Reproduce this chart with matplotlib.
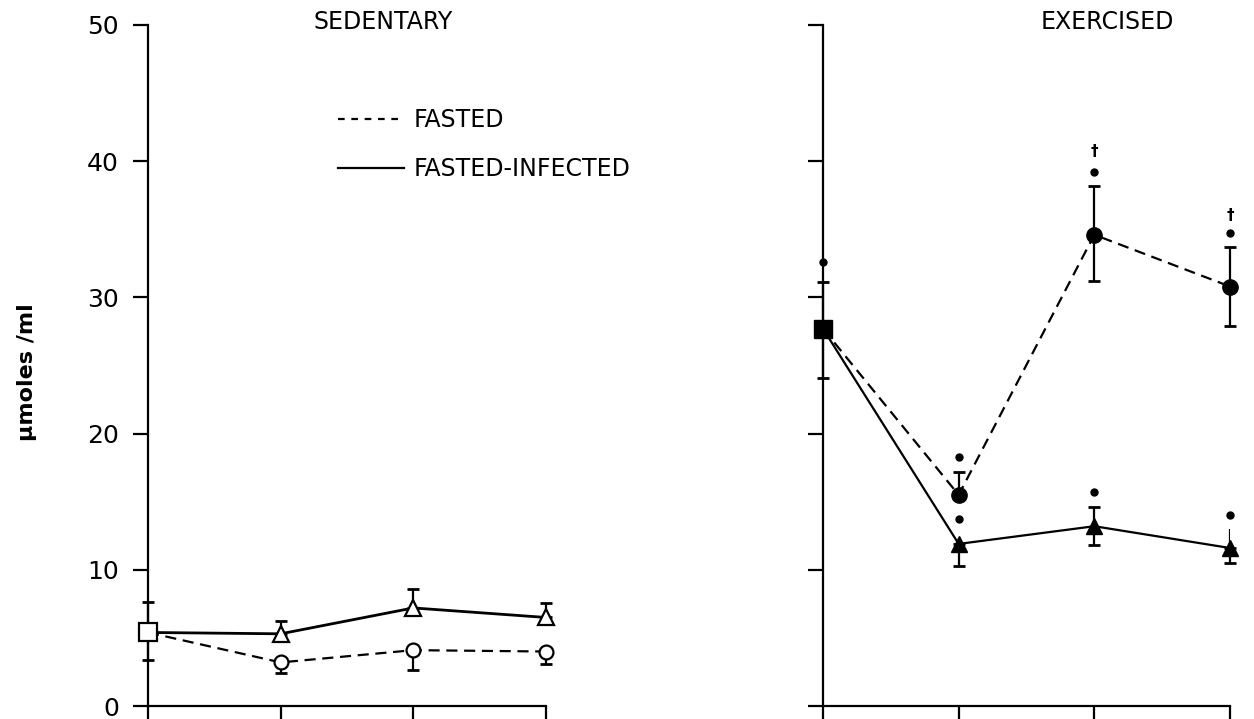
import matplotlib
matplotlib.use("Agg")
import matplotlib.pyplot as plt
import numpy as np
from matplotlib.lines import Line2D

# ---------------- data ----------------
x_pos = [0, 1, 2, 3]
y_ticks = [0, 10, 20, 30, 40, 50]
panel_titles = ["SEDENTARY", "EXERCISED"]
legend_labels = ["FASTED", "FASTED-INFECTED"]
y_label = "µmoles /ml"

# Sedentary panel
sed_base = 5.4
sed_base_err_up = 2.2
sed_base_err_lo = 2.0
sed_fasted = [3.2, 4.1, 4.0]
sed_fasted_err_lo = [0.8, 1.45, 0.9]
sed_infected = [5.3, 7.2, 6.5]
sed_infected_err_up = [0.95, 1.4, 1.05]

# Exercised panel
ex_base = 27.7
ex_base_err_up = 3.4
ex_base_err_lo = 3.6
ex_base_star = 32.6
ex_fasted = [15.5, 34.6, 30.8]
ex_fasted_err_up = [1.7, 3.6, 2.9]
ex_fasted_err_lo = [0.0, 3.4, 2.9]
ex_fasted_star = [18.3, 39.2, 34.7]
ex_fasted_dagger = [np.nan, 40.7, 36.0]
ex_infected = [11.9, 13.2, 11.6]
ex_infected_err_up = [0.0, 1.4, 0.0]
ex_infected_err_up_nocap = [0.0, 0.0, 1.4]
ex_infected_err_lo = [1.6, 1.4, 1.1]
ex_infected_star = [13.75, 15.7, 14.0]

# ---------------- figure ----------------
fig = plt.figure(figsize=(12.54, 7.19), dpi=100)
ax1 = fig.add_axes([148 / 1254, 13 / 719, 398 / 1254, 681 / 719])
ax2 = fig.add_axes([823 / 1254, 13 / 719, 407 / 1254, 681 / 719])

LW = 1.6
DASH = (5.0, 3.0)

for ax in (ax1, ax2):
    ax.set_xlim(0, 3)
    ax.set_ylim(0, 50)
    ax.spines["top"].set_visible(False)
    ax.spines["right"].set_visible(False)
    ax.spines["left"].set_linewidth(LW)
    ax.spines["bottom"].set_linewidth(LW)
    ax.set_xticks(x_pos)
    ax.set_xticklabels([])
    ax.set_yticks(y_ticks)
    ax.tick_params(axis="y", direction="out", length=11, width=LW, pad=10)
    ax.tick_params(axis="x", direction="out", length=12, width=LW)
    ax.patch.set_alpha(0)

ax1.set_yticklabels([str(v) for v in y_ticks], fontsize=18)
ax2.set_yticklabels([])
ax1.set_ylabel(y_label, fontsize=16, fontweight="bold")
ax1.yaxis.set_label_coords(-0.279, 0.49)


def errbars(ax, xs, ys, lo, hi, z=3):
    ax.errorbar(xs, ys, yerr=[lo, hi], fmt="none", ecolor="black",
                elinewidth=LW, capsize=4.5, capthick=2.0, zorder=z,
                clip_on=False)


# ---- Sedentary ----
f_y = [sed_base] + sed_fasted
i_y = [sed_base] + sed_infected
ax1.plot(x_pos, f_y, color="black", lw=LW, ls="--", dashes=DASH, zorder=2, clip_on=False)
ax1.plot(x_pos, i_y, color="black", lw=2.0, ls="-", zorder=2, clip_on=False)
errbars(ax1, [x_pos[0]], [sed_base], [sed_base_err_lo], [sed_base_err_up])
errbars(ax1, x_pos[1:], sed_fasted, sed_fasted_err_lo, [0] * 3)
errbars(ax1, x_pos[1:], sed_infected, [0] * 3, sed_infected_err_up)
ax1.plot(x_pos[1:], sed_fasted, "o", ms=10, mfc="white", mec="black", mew=LW, zorder=5, clip_on=False)
ax1.plot(x_pos[1:], sed_infected, "^", ms=12, mfc="white", mec="black", mew=LW, zorder=5, clip_on=False)
ax1.plot([x_pos[0]], [sed_base], "s", ms=13, mfc="white", mec="black", mew=LW, zorder=6, clip_on=False)

# ---- Exercised ----
f_y = [ex_base] + ex_fasted
i_y = [ex_base] + ex_infected
ax2.plot(x_pos, f_y, color="black", lw=LW, ls="--", dashes=DASH, zorder=2, clip_on=False)
ax2.plot(x_pos, i_y, color="black", lw=LW, ls="-", zorder=2, clip_on=False)
errbars(ax2, [x_pos[0]], [ex_base], [ex_base_err_lo], [ex_base_err_up])
errbars(ax2, x_pos[1:], ex_fasted, ex_fasted_err_lo, ex_fasted_err_up)
errbars(ax2, x_pos[1:], ex_infected, ex_infected_err_lo, ex_infected_err_up)
ax2.vlines(x_pos[1:], ex_infected,
           np.array(ex_infected) + np.array(ex_infected_err_up_nocap),
           color="black", lw=LW, zorder=3)
ax2.plot(x_pos[1:], ex_fasted, "o", ms=11, mfc="black", mec="black", zorder=5, clip_on=False)
ax2.plot(x_pos[1:], ex_infected, "^", ms=12, mfc="black", mec="black", zorder=5, clip_on=False)
ax2.plot([x_pos[0]], [ex_base], "s", ms=13, mfc="black", mec="black", zorder=6, clip_on=False)
ax2.plot([x_pos[0]] + x_pos[1:] + x_pos[1:],
         [ex_base_star] + ex_fasted_star + ex_infected_star,
         "o", ms=5, color="black", ls="none", zorder=5, clip_on=False)
for xv, yv in zip(x_pos[1:], ex_fasted_dagger):
    if not np.isnan(yv):
        ax2.text(xv, yv, "†", ha="center", va="center", fontsize=11, fontweight="bold")

# ---- titles ----
fig.text(383 / 1254, 1 - 22 / 719, panel_titles[0], ha="center", va="center", fontsize=17)
fig.text(1107 / 1254, 1 - 22 / 719, panel_titles[1], ha="center", va="center", fontsize=17)

# ---- legend ----
handles = [Line2D([], [], color="black", lw=LW, ls="--", dashes=(3, 3)),
           Line2D([], [], color="black", lw=LW, ls="-")]
fig.legend(handles, legend_labels, loc="upper left",
           bbox_to_anchor=(338 / 1254, 1 - 108 / 719), frameon=False,
           fontsize=17, handlelength=2.8, handletextpad=0.4,
           labelspacing=1.05, borderpad=0, borderaxespad=0)

fig.savefig("out.png", dpi=100)
